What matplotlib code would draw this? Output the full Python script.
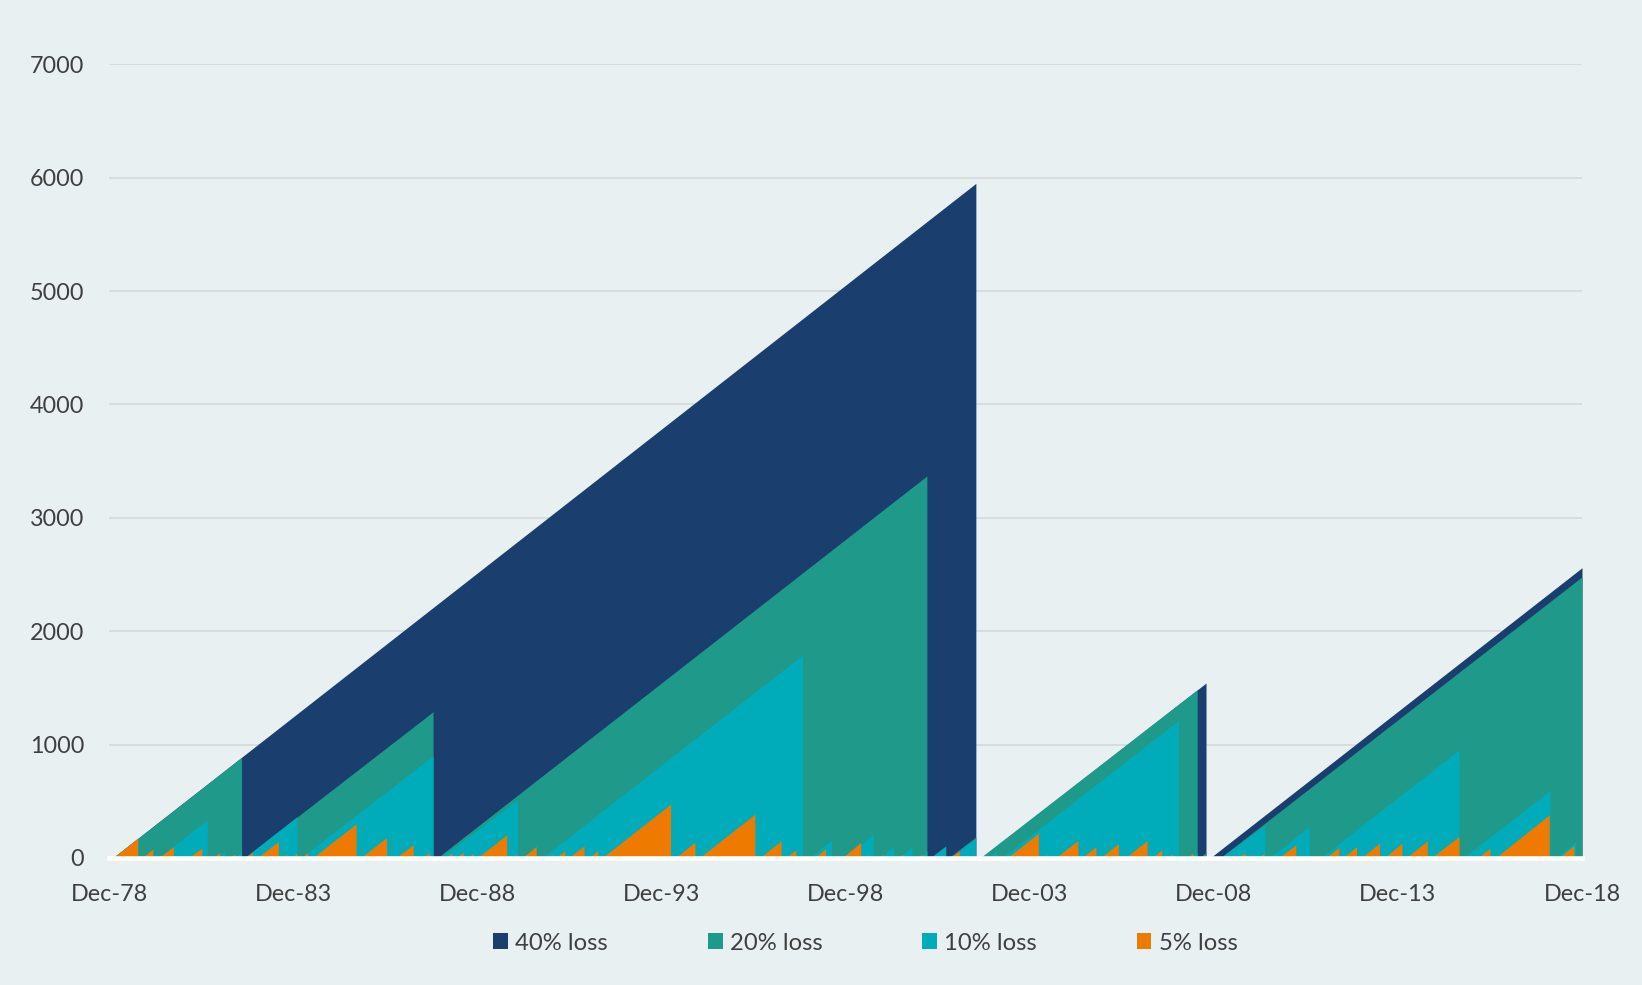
import matplotlib
matplotlib.use("Agg")
import matplotlib.pyplot as plt
from matplotlib.patches import Patch
import numpy as np

# ---------------- data (decimal years; peak = days since last loss) ----------------
series_names = ["40% loss", "20% loss", "10% loss", "5% loss"]

loss40_start = [1979.06, 2002.64, 2008.86]
loss40_end   = [2002.50, 2008.75, 2018.96]
loss40_peak  = [5950, 1543, 2560]

loss20_start = [1979.06, 1982.63, 1987.87, 2001.25, 2001.75, 2002.61, 2008.56, 2009.13]
loss20_end   = [1982.56, 1987.76, 2001.17, 2001.68, 2002.50, 2008.51, 2008.75, 2018.96]
loss20_peak  = [887, 1290, 3370, 107, 185, 1484, 50, 2480]

loss10_start = [1979.06, 1979.85, 1980.29, 1981.88, 1982.34, 1982.63, 1984.16, 1987.95,
                1990.72, 1997.99, 1998.90, 1999.90, 2000.39, 2000.93, 2001.25, 2001.80,
                2002.83, 2003.20, 2008.31, 2009.13, 2010.46, 2011.85, 2015.73, 2018.22]
loss10_end   = [1979.74, 1980.15, 1981.63, 1982.11, 1982.56, 1984.07, 1987.76, 1990.05,
                1997.79, 1998.58, 1999.71, 2000.26, 2000.76, 2001.17, 2001.68, 2002.48,
                2003.07, 2008.00, 2008.51, 2010.35, 2011.55, 2015.62, 2018.09, 2018.79]
loss10_peak  = [175, 78, 338, 62, 58, 366, 902, 515,
                1790, 160, 210, 100, 95, 60, 100, 171,
                60, 1213, 50, 288, 278, 954, 595, 145]

loss5_start = [1979.06, 1979.85, 1980.30, 1981.11, 1981.78, 1982.19, 1982.67, 1982.97,
               1983.65, 1983.92, 1984.19, 1984.48, 1985.78, 1986.73, 1987.45, 1988.08,
               1988.36, 1988.67, 1988.96, 1989.90, 1990.17, 1990.85, 1991.07, 1991.43,
               1991.98, 1992.34, 1994.33, 1994.98, 1996.62, 1997.32, 1997.70, 1997.89,
               1998.11, 1998.86, 1999.44, 1999.81, 2000.25, 2000.79, 2001.80, 2002.15,
               2003.34, 2004.29, 2004.46, 2004.65, 2005.37, 2005.87, 2006.55, 2007.27,
               2007.68, 2007.91, 2008.23, 2008.63, 2009.58, 2009.85, 2010.16, 2010.58,
               2010.71, 2011.30, 2011.98, 2012.45, 2012.96, 2013.58, 2014.17, 2014.86,
               2015.83, 2016.12, 2016.60, 2018.32]
loss5_end   = [1979.74, 1980.15, 1980.71, 1981.48, 1981.97, 1982.38, 1982.86, 1983.56,
               1983.79, 1984.06, 1984.35, 1985.67, 1986.50, 1987.22, 1987.66, 1988.27,
               1988.58, 1988.85, 1989.76, 1990.00, 1990.56, 1991.00, 1991.34, 1991.86,
               1992.23, 1994.21, 1994.87, 1996.50, 1997.21, 1997.61, 1997.79, 1998.00,
               1998.42, 1999.37, 1999.57, 1999.97, 2000.52, 2001.06, 2002.05, 2002.25,
               2004.20, 2004.44, 2004.54, 2005.27, 2005.76, 2006.37, 2007.15, 2007.55,
               2007.83, 2008.00, 2008.40, 2008.75, 2009.81, 2010.03, 2010.32, 2010.63,
               2011.19, 2011.39, 2012.36, 2012.84, 2013.46, 2014.07, 2014.76, 2015.62,
               2015.94, 2016.46, 2018.07, 2018.74]
loss5_peak  = [175, 78, 101, 87, 48, 34, 51, 146,
               34, 43, 48, 301, 181, 116, 48, 43,
               50, 40, 205, 34, 101, 34, 63, 107,
               63, 475, 140, 387, 151, 72, 28, 25,
               81, 137, 30, 30, 30, 30, 63, 28,
               219, 30, 20, 154, 101, 128, 154, 72,
               37, 20, 43, 25, 45, 30, 40, 15,
               116, 20, 93, 101, 131, 131, 151, 190,
               25, 87, 381, 110]

x_tick_pos = [1978.96, 1983.96, 1988.96, 1993.96, 1998.96, 2003.96, 2008.96, 2013.96, 2018.96]
x_tick_labels = ["Dec-78", "Dec-83", "Dec-88", "Dec-93", "Dec-98", "Dec-03", "Dec-08", "Dec-13", "Dec-18"]
y_ticks = [0, 1000, 2000, 3000, 4000, 5000, 6000, 7000]

colors = ["#1A3E6E", "#1F998A", "#00ACBA", "#EE7A00"]
bg = "#E8F0F2"
text_color = "#3F3F3F"

plt.rcParams['font.family'] = ['Lato', 'DejaVu Sans']

fig = plt.figure(figsize=(16.42, 9.85), dpi=100, facecolor=bg)
ax = fig.add_axes([109 / 1642, 1 - 858 / 985, 1473 / 1642, (858 - 64.3) / 985])
ax.set_facecolor(bg)


def sawtooth(starts, ends, peaks):
    xs, ys = [], []
    for s, e, p in zip(starts, ends, peaks):
        xs += [s, e, e]
        ys += [0, p, 0]
    return np.array(xs), np.array(ys)


all_series = [
    (loss40_start, loss40_end, loss40_peak),
    (loss20_start, loss20_end, loss20_peak),
    (loss10_start, loss10_end, loss10_peak),
    (loss5_start, loss5_end, loss5_peak),
]
for i, (s, e, p) in enumerate(all_series):
    xs, ys = sawtooth(s, e, p)
    ax.fill_between(xs, 0, ys, color=colors[i], linewidth=0, zorder=2 + i, antialiased=True)

ax.set_xlim(1978.96, 2018.96)
ax.set_ylim(0, 7000)
ax.set_yticks(y_ticks)
ax.set_xticks(x_tick_pos)
ax.set_xticklabels(x_tick_labels)
for sp in ax.spines.values():
    sp.set_visible(False)
ax.grid(axis='y', color='#D6DCDE', linewidth=1.3, zorder=0)
ax.grid(axis='x', visible=False)
ax.set_axisbelow(True)
ax.tick_params(axis='both', length=0, labelsize=16.8, labelcolor=text_color)
ax.tick_params(axis='y', pad=18)
ax.tick_params(axis='x', pad=19)
ax.axhline(0, color='white', linewidth=3.3, zorder=10, clip_on=False)

handles = [Patch(facecolor=c, edgecolor='none', label=n) for c, n in zip(colors, series_names)]
leg = fig.legend(handles=handles, loc='center', bbox_to_anchor=(0.527, 1 - 943 / 985), ncol=4,
                 frameon=False, fontsize=17.2, handlelength=0.62, handleheight=0.62,
                 handletextpad=0.3, columnspacing=4.18, labelcolor=text_color)

fig.savefig("out.png", dpi=100, facecolor=bg)
